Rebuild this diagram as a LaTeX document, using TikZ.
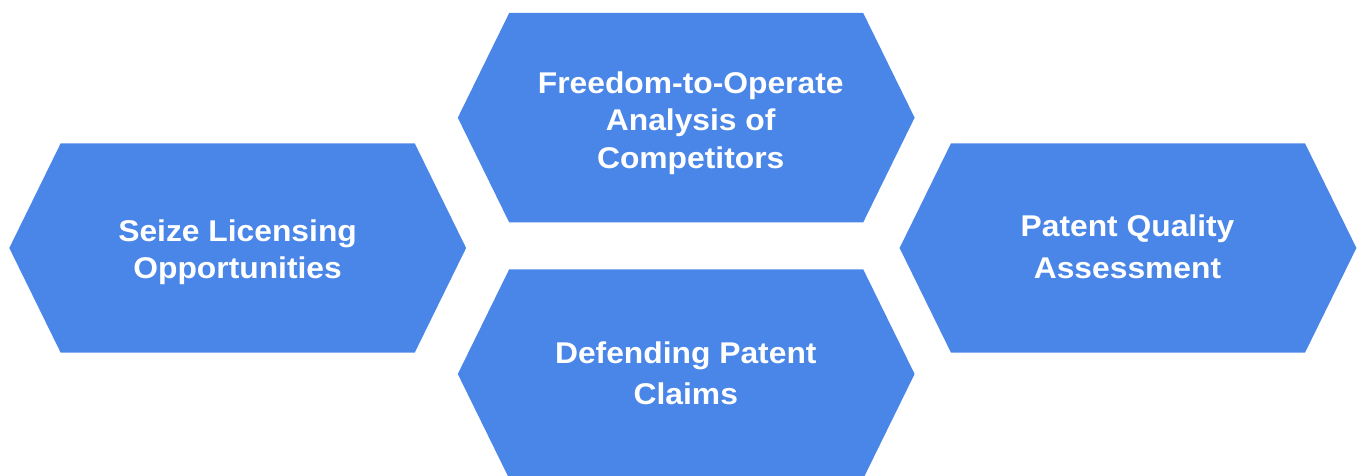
\documentclass[tikz,border=0pt]{standalone}
\usepackage{fontspec}
\setmainfont{Liberation Sans}[FakeStretch=1.06]
\definecolor{hexblue}{RGB}{74,134,232}
\tikzset{
  hexlabel/.style={text=white, align=center, inner sep=0pt,
    font=\bfseries\fontsize{30}{#1}\selectfont},
}
\newcommand{\hexat}[2]{%
  \fill[hexblue] (#1-228.4,#2) -- (#1-177,#2-104.7) -- (#1+177,#2-104.7)
    -- (#1+228.4,#2) -- (#1+177,#2+104.7) -- (#1-177,#2+104.7) -- cycle;}
\begin{document}
\begin{tikzpicture}[x=1pt,y=-1pt]
\useasboundingbox (0,0) rectangle (1359,476);
\hexat{237.7}{248}
\hexat{686.2}{117.7}
\hexat{686.2}{374}
\hexat{1128}{248}
\node[hexlabel=37.5] (fto) at (690.7,123.2) {Freedom-to-Operate\\Analysis of\\Competitors};
\node[hexlabel=37] (seize) at (237.6,252.5) {Seize Licensing\\Opportunities};
\node[hexlabel=42.3] (quality) at (1127.5,246.5) {Patent Quality\\Assessment};
\node[hexlabel=40.7] (defend) at (685.8,373.2) {Defending Patent\\Claims};
\end{tikzpicture}
\end{document}
